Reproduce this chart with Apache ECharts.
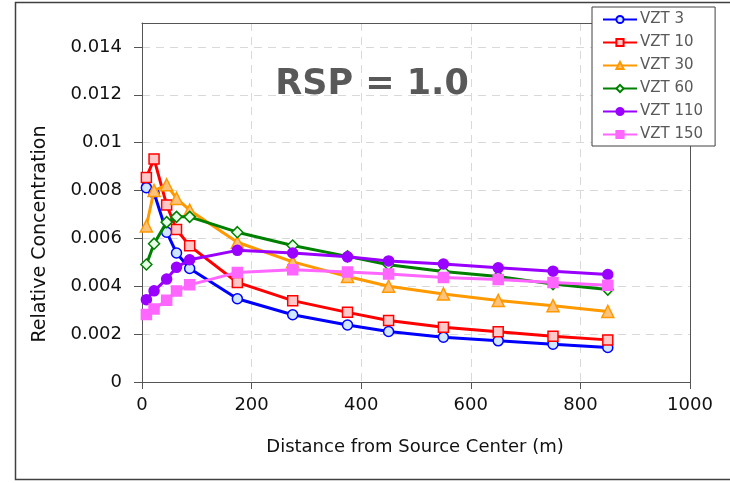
<!DOCTYPE html>
<html>
<head>
<meta charset="utf-8">
<script src="https://cdn.jsdelivr.net/npm/echarts@6/dist/echarts.min.js"></script>
<style>html,body{margin:0;padding:0;background:#fff;}#c{width:730px;height:483px;}</style>
</head>
<body>
<div id="c"></div>
<script>
// Data
const distances = [8, 22, 45, 63, 87, 174, 275, 375, 450, 550, 650, 750, 850];
const vzt3   = [0.00812, 0.00790, 0.00626, 0.00539, 0.00474, 0.00348, 0.00281, 0.00238, 0.00211, 0.00187, 0.00172, 0.00158, 0.00144];
const vzt10  = [0.00854, 0.00932, 0.00740, 0.00637, 0.00569, 0.00416, 0.00340, 0.00291, 0.00257, 0.00229, 0.00210, 0.00191, 0.00176];
const vzt30  = [0.00652, 0.00800, 0.00824, 0.00767, 0.00718, 0.00584, 0.00502, 0.00441, 0.00400, 0.00368, 0.00341, 0.00319, 0.00295];
const vzt60  = [0.00491, 0.00578, 0.00668, 0.00690, 0.00690, 0.00626, 0.00570, 0.00525, 0.00490, 0.00462, 0.00441, 0.00409, 0.00386];
const vzt110 = [0.00344, 0.00381, 0.00430, 0.00479, 0.00511, 0.00550, 0.00539, 0.00523, 0.00506, 0.00493, 0.00477, 0.00463, 0.00449];
const vzt150 = [0.00282, 0.00305, 0.00342, 0.00380, 0.00406, 0.00458, 0.00469, 0.00460, 0.00451, 0.00437, 0.00428, 0.00416, 0.00404];
const seriesNames = ['VZT 3', 'VZT 10', 'VZT 30', 'VZT 60', 'VZT 110', 'VZT 150'];
const yTickValues = [0, 0.002, 0.004, 0.006, 0.008, 0.01, 0.012, 0.014];
const xTickValues = [0, 200, 400, 600, 800, 1000];

const FONT = 'DejaVu Sans';
const styles = [
  {line: '#0000ff', fill: '#cfe6ff', symbol: 'circle', size: 10},
  {line: '#ff0000', fill: '#ffc8c8', symbol: 'rect', size: 10},
  {line: '#ff9900', fill: '#ffc27a', symbol: 'triangle', size: 12},
  {line: '#008000', fill: '#e8ffe8', symbol: 'diamond', size: 11},
  {line: '#9900ff', fill: '#9900ff', symbol: 'circle', size: 10},
  {line: '#ff66ff', fill: '#ff66ff', symbol: 'rect', size: 10}
];
const values = [vzt3, vzt10, vzt30, vzt60, vzt110, vzt150];

const series = values.map((vals, i) => ({
  name: seriesNames[i],
  type: 'line',
  xAxisIndex: 0,
  yAxisIndex: 0,
  data: distances.map((d, k) => [d, vals[k]]),
  symbol: styles[i].symbol,
  symbolSize: styles[i].size,
  showAllSymbol: true,
  lineStyle: {color: styles[i].line, width: 3},
  itemStyle: {color: styles[i].fill, borderColor: styles[i].line, borderWidth: 1.5},
  emphasis: {disabled: true},
  z: 3 + i
}));

const chart = echarts.init(document.getElementById('c'), null, {renderer: 'canvas'});
chart.setOption({
  animation: false,
  backgroundColor: '#fff',
  grid: {left: 142, right: 40, top: 23, bottom: 101, containLabel: false},
  xAxis: [{
    type: 'value', min: 0, max: 1000, interval: 200,
    axisLine: {show: true, lineStyle: {color: '#555', width: 1}},
    axisTick: {show: true, length: 7, inside: false, lineStyle: {color: '#555'}},
    axisLabel: {margin: 14, fontFamily: FONT, fontSize: 18, color: '#111',
      customValues: xTickValues, formatter: v => String(v)},
    splitLine: {show: true, lineStyle: {color: '#d9d9d9', type: [8, 6], width: 1}}
  }, {
    type: 'value', position: 'top', min: 0, max: 1000,
    axisLine: {show: true, onZero: false, lineStyle: {color: '#555', width: 1}},
    axisTick: {show: false}, axisLabel: {show: false}, splitLine: {show: false}
  }],
  yAxis: [{
    type: 'value', min: 0, max: 0.015, interval: 0.002,
    axisLine: {show: true, lineStyle: {color: '#555', width: 1}},
    axisTick: {show: true, length: 8, customValues: yTickValues, lineStyle: {color: '#555'}},
    axisLabel: {margin: 20, fontFamily: FONT, fontSize: 18, color: '#111',
      customValues: yTickValues,
      formatter: v => (v === 0 ? '0' : String(+v.toFixed(3)))},
    splitLine: {show: true, lineStyle: {color: '#d9d9d9', type: [8, 6], width: 1}}
  }, {
    type: 'value', position: 'right', min: 0, max: 0.015,
    axisLine: {show: true, onZero: false, lineStyle: {color: '#555', width: 1}},
    axisTick: {show: false}, axisLabel: {show: false}, splitLine: {show: false}
  }],
  legend: {
    orient: 'vertical', left: 592, top: 7,
    padding: [4, 12, 3, 10],
    itemWidth: 34, itemHeight: 9, itemGap: 6,
    backgroundColor: '#fff', borderColor: '#404040', borderWidth: 1,
    textStyle: {fontFamily: FONT, fontSize: 15, color: '#595959', lineHeight: 17, padding: [0, 0, 0, -2]},
    data: seriesNames,
    z: 20
  },
  graphic: [
    {type: 'rect', left: 13, top: 0, shape: {x: 0.5, y: 0.5, width: 800, height: 477},
     style: {fill: 'none', stroke: '#404040', lineWidth: 1.5}, silent: true, z: 100},
    {type: 'text', x: 372, y: 85,
     style: {text: 'RSP = 1.0', fontFamily: FONT, fontWeight: 'bold', fontSize: 35,
       fill: '#595959', align: 'center', verticalAlign: 'middle'}, z: 10},
    {type: 'text', x: 415, y: 447,
     style: {text: 'Distance from Source Center (m)', fontFamily: FONT, fontSize: 18,
       fill: '#111', align: 'center', verticalAlign: 'middle'}},
    {type: 'text', x: 40, y: 234, rotation: Math.PI / 2,
     style: {text: 'Relative Concentration', fontFamily: FONT, fontSize: 19,
       fill: '#111', align: 'center', verticalAlign: 'middle'}}
  ],
  series: series
});
</script>
</body>
</html>
